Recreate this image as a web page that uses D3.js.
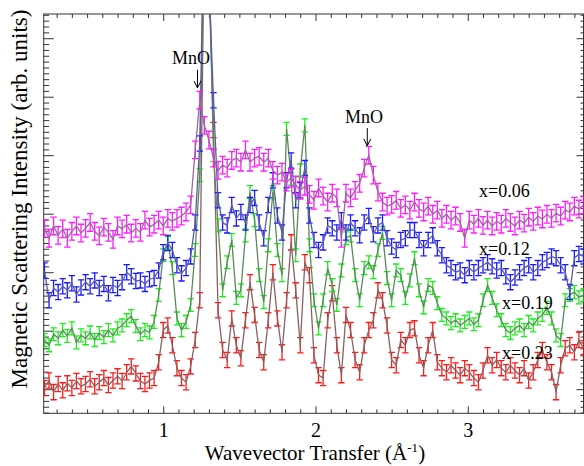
<!DOCTYPE html>
<html>
<head>
<meta charset="utf-8">
<script src="https://cdn.jsdelivr.net/npm/d3@7"></script>
<style>
  html, body { margin: 0; padding: 0; background: #fff; overflow: hidden; }
  svg { display: block; }
  svg text { font-family: "Liberation Serif", "DejaVu Serif", serif; fill: #000; }
</style>
</head>
<body>
<div id="chart"></div>
<script>
// wavevector transfer grid (1/Angstrom)
var q = [
  0.22,0.25,0.28,0.31,0.34,0.37,0.40,0.43,0.46,0.49,
  0.52,0.55,0.58,0.61,0.64,0.67,0.70,0.73,0.76,0.79,
  0.82,0.85,0.88,0.91,0.94,0.97,1.00,1.03,1.06,1.09,
  1.12,1.15,1.18,1.21,1.24,1.27,1.30,1.33,1.36,1.39,
  1.42,1.45,1.48,1.51,1.54,1.57,1.60,1.63,1.66,1.69,
  1.72,1.75,1.78,1.81,1.84,1.87,1.90,1.93,1.96,1.99,
  2.02,2.05,2.08,2.11,2.14,2.17,2.20,2.23,2.26,2.29,
  2.32,2.35,2.38,2.41,2.44,2.47,2.50,2.53,2.56,2.59,
  2.62,2.65,2.68,2.71,2.74,2.77,2.80,2.83,2.86,2.89,
  2.92,2.95,2.98,3.01,3.04,3.07,3.10,3.13,3.16,3.19,
  3.22,3.25,3.28,3.31,3.34,3.37,3.40,3.43,3.46,3.49,
  3.52,3.55,3.58,3.61,3.64,3.67,3.70,3.73,3.76
];

// intensities (arb. units, offset per composition)
var intensityX006 = [
  27.5,25.8,27.9,26.3,27.4,25.8,27.0,27.9,26.7,27.5,
  28.5,27.0,26.2,27.7,26.8,25.6,27.9,27.4,28.2,26.7,
  27.5,26.8,28.9,27.7,28.2,28.9,27.9,29.2,28.7,29.2,
  29.6,30.3,31.5,40.9,49.4,45.1,42.6,39.5,37.4,38.3,
  37.8,39.1,39.5,38.8,40.9,38.8,39.5,39.8,38.8,39.5,
  37.4,36.6,37.1,35.4,36.1,34.9,34.0,34.7,33.3,32.3,
  34.4,33.0,32.0,33.5,32.7,25.8,33.5,32.7,34.0,35.2,
  37.8,40.0,36.6,33.7,32.0,31.3,31.6,32.3,30.9,31.5,
  30.6,32.0,30.9,30.3,31.3,29.9,30.6,29.2,29.9,28.9,
  29.6,28.5,25.8,28.9,28.2,29.2,28.0,28.9,27.9,28.7,
  28.2,29.2,28.5,27.9,28.9,28.4,29.4,28.7,29.6,29.1,
  29.9,29.2,30.1,29.6,30.6,30.3,31.3,30.8,31.5
];
var intensityX012 = [
  20.3,15.2,17.3,16.6,17.6,16.9,18.1,16.2,17.4,18.3,
  17.6,18.6,17.3,18.0,16.4,17.8,17.3,18.3,20.0,19.3,
  18.5,18.6,18.0,18.8,19.0,20.3,23.4,25.0,23.8,21.2,
  19.8,20.7,22.7,28.5,42.0,85.0,70.0,49.4,32.3,28.5,
  28.0,31.5,29.2,30.3,28.5,31.5,32.7,28.5,25.8,31.5,
  35.7,29.7,26.8,35.7,39.1,32.3,34.0,37.8,29.7,25.5,
  23.8,25.1,28.0,27.5,26.8,28.9,26.8,28.5,27.5,26.3,
  28.5,29.6,26.5,28.0,28.5,25.8,24.4,23.8,25.5,25.8,
  27.2,27.2,25.5,24.1,25.5,26.3,24.1,22.9,21.2,20.7,
  20.0,20.3,19.5,20.7,20.0,20.7,21.2,21.7,21.0,20.3,
  20.7,19.3,18.3,19.1,20.0,20.7,21.2,20.0,20.7,21.7,
  22.1,22.7,22.4,21.2,20.0,16.6,22.4,23.1,22.7
];
var intensityX019 = [
  8.4,7.5,9.4,8.7,10.1,9.1,10.4,8.0,9.2,8.7,
  9.7,8.4,9.6,8.9,10.1,9.2,10.4,10.9,11.8,12.5,
  10.8,9.4,10.1,9.7,11.5,16.1,22.9,25.0,20.7,12.1,
  10.1,11.5,14.4,23.8,36.6,82.0,75.0,40.0,28.0,16.9,
  21.7,25.5,15.6,16.9,26.3,33.7,28.9,19.5,14.9,24.6,
  33.7,23.8,19.5,44.5,36.0,22.9,37.4,45.1,24.6,15.2,
  10.4,15.2,20.7,17.8,14.4,20.3,25.8,26.3,19.5,15.2,
  20.7,21.7,20.0,23.8,26.7,19.0,15.2,20.3,19.5,15.6,
  18.6,22.4,16.9,14.0,17.8,17.3,14.7,12.7,12.1,11.3,
  11.8,10.9,11.5,12.1,11.1,11.8,15.2,17.8,15.6,13.5,
  11.8,10.1,9.6,10.4,10.9,10.1,11.5,10.9,12.1,12.7,
  13.9,12.1,9.2,8.4,15.2,16.1,16.6,15.7,16.1
];
var intensityX023 = [
  0.2,1.5,-0.5,0.9,-0.2,1.0,0.2,1.4,0.5,0.9,
  1.7,0.5,1.2,1.9,0.7,1.5,2.2,1.4,2.9,3.9,
  2.7,1.4,0.9,1.5,1.9,4.6,10.1,10.9,7.5,3.6,
  1.9,1.2,3.9,8.4,15.2,80.0,70.0,44.3,13.5,6.7,
  5.0,12.1,7.5,5.3,11.8,18.3,12.7,6.7,4.6,11.8,
  20.0,12.1,6.3,15.2,25.1,16.9,7.5,21.7,19.5,5.8,
  2.4,1.9,11.8,16.4,7.5,2.4,12.7,10.1,5.0,2.9,
  7.5,10.1,11.8,16.9,15.2,10.9,5.0,4.1,8.4,7.5,
  10.1,10.4,5.8,3.6,7.5,10.1,4.6,3.6,2.9,4.1,
  3.2,2.4,3.6,2.9,1.9,1.2,3.2,5.8,4.1,5.0,
  3.6,2.9,4.1,3.2,2.4,3.6,1.5,2.9,5.0,6.7,
  4.6,2.9,-0.5,4.1,7.0,7.5,6.3,8.4,7.0
];

// error bar half-lengths
var errX006 = 1.5, errX012 = 1.3, errX019 = 1.1, errX023 = 1.3;

var seriesNames = ["x=0.23", "x=0.19", "x=0.12", "x=0.06"];
var xMajorTicks = [1, 2, 3];
var mnoLabels = ["MnO", "MnO"];

var width = 584, height = 466,
    margin = {top: 14, right: 0.5, bottom: 52.7, left: 43.7},
    innerWidth = width - margin.left - margin.right,
    innerHeight = height - margin.top - margin.bottom;

var svg = d3.select("#chart").append("svg")
    .attr("width", width)
    .attr("height", height);

var g = svg.append("g")
    .attr("transform", "translate(" + margin.left + "," + margin.top + ")");

var x = d3.scaleLinear().domain([0.215, 3.76]).range([0, innerWidth]);
var y = d3.scaleLinear().domain([-4.12, 64.14]).range([innerHeight, 0]);

var xMinor = d3.range(3, 38).map(function (d) { return d / 10; })
    .filter(function (d) { return xMajorTicks.indexOf(d) < 0; });
var yMajor = d3.range(0, 61, 10);
var yMinor = d3.range(-4, 65).filter(function (d) { return d % 10 !== 0; });

function styleAxis(sel) {
  sel.select(".domain").remove();
  sel.selectAll(".tick line").attr("stroke", "#333").attr("stroke-width", 1);
  // unlabeled axes: drop the empty text nodes
  sel.selectAll(".tick text").filter(function () { return !this.textContent; }).remove();
}

// bottom
g.append("g").attr("transform", "translate(0," + innerHeight + ")")
  .call(d3.axisBottom(x).tickValues(xMinor).tickSize(-4).tickFormat(""))
  .call(styleAxis);
g.append("g").attr("transform", "translate(0," + innerHeight + ")")
  .call(d3.axisBottom(x).tickValues(xMajorTicks).tickSize(-7).tickPadding(10).tickFormat(d3.format("d")))
  .call(styleAxis)
  .selectAll("text").attr("font-size", 20).attr("font-family", "Liberation Serif");
// top
g.append("g")
  .call(d3.axisTop(x).tickValues(xMinor).tickSize(-4).tickFormat(""))
  .call(styleAxis);
g.append("g")
  .call(d3.axisTop(x).tickValues(xMajorTicks).tickSize(-7).tickFormat(""))
  .call(styleAxis);
// left
g.append("g")
  .call(d3.axisLeft(y).tickValues(yMinor).tickSize(-5.5).tickFormat(""))
  .call(styleAxis);
g.append("g")
  .call(d3.axisLeft(y).tickValues(yMajor).tickSize(-10).tickFormat(""))
  .call(styleAxis);
// right
g.append("g").attr("transform", "translate(" + innerWidth + ",0)")
  .call(d3.axisRight(y).tickValues(yMinor).tickSize(-3).tickFormat(""))
  .call(styleAxis);
g.append("g").attr("transform", "translate(" + innerWidth + ",0)")
  .call(d3.axisRight(y).tickValues(yMajor).tickSize(-7).tickFormat(""))
  .call(styleAxis);

g.append("rect")
  .attr("width", innerWidth)
  .attr("height", innerHeight)
  .attr("fill", "none")
  .attr("stroke", "#333")
  .attr("stroke-width", 1);

g.append("clipPath").attr("id", "clip")
  .append("rect").attr("width", innerWidth).attr("height", innerHeight);

var plot = g.append("g").attr("clip-path", "url(#clip)");

var series = [
  {values: intensityX023, err: errX023, color: "#ff1a1a", line: "#8a6060"},
  {values: intensityX019, err: errX019, color: "#1aee1a", line: "#5a8a5a"},
  {values: intensityX012, err: errX012, color: "#1a1aff", line: "#5a5aa8"},
  {values: intensityX006, err: errX006, color: "#ff1aff", line: "#a064a0"}
];

var line = d3.line()
  .x(function (d) { return x(d.q); })
  .y(function (d) { return y(d.v); });

series.forEach(function (s) {
  var pts = q.map(function (d, i) { return {q: d, v: s.values[i], e: s.err}; });
  var gs = plot.append("g");

  var bars = gs.selectAll(".eb").data(pts).enter().append("g").attr("class", "eb")
    .attr("stroke", s.color).attr("stroke-width", 1.3);
  bars.append("line")
    .attr("x1", function (d) { return x(d.q); })
    .attr("x2", function (d) { return x(d.q); })
    .attr("y1", function (d) { return y(d.v - d.e); })
    .attr("y2", function (d) { return y(d.v + d.e); });
  bars.append("line")
    .attr("x1", function (d) { return x(d.q) - 3.2; })
    .attr("x2", function (d) { return x(d.q) + 3.2; })
    .attr("y1", function (d) { return y(d.v + d.e); })
    .attr("y2", function (d) { return y(d.v + d.e); });
  bars.append("line")
    .attr("x1", function (d) { return x(d.q) - 3.2; })
    .attr("x2", function (d) { return x(d.q) + 3.2; })
    .attr("y1", function (d) { return y(d.v - d.e); })
    .attr("y2", function (d) { return y(d.v - d.e); });

  gs.append("path").datum(pts)
    .attr("d", line)
    .attr("fill", "none")
    .attr("stroke", s.line)
    .attr("stroke-width", 1.3);
});

// composition labels (data coordinates)
var labelPos = [[3.225, 5.16], [3.225, 13.7], [3.074, 22.94], [3.074, 32.85]];
g.selectAll(".series-label").data(seriesNames).enter().append("text")
  .attr("class", "series-label")
  .attr("x", function (d, i) { return x(labelPos[i][0]); })
  .attr("y", function (d, i) { return y(labelPos[i][1]); })
  .attr("font-size", 18)
  .text(function (d) { return d; });

// MnO impurity markers
var mno = [
  {tq: 1.058, tv: 55.6, aq: 1.225, a1: 54.6, a2: 51.5},
  {tq: 2.194, tv: 45.5, aq: 2.34, a1: 44.65, a2: 41.6}
];
mno.forEach(function (m, i) {
  g.append("text")
    .attr("x", x(m.tq))
    .attr("y", y(m.tv))
    .attr("font-size", 18)
    .text(mnoLabels[i]);
  var ax = x(m.aq), ay1 = y(m.a1), ay2 = y(m.a2);
  g.append("path")
    .attr("d", "M" + ax + "," + ay1 + "L" + ax + "," + ay2 +
               "M" + (ax - 3.5) + "," + (ay2 - 7) + "L" + ax + "," + ay2 + "L" + (ax + 3.5) + "," + (ay2 - 7))
    .attr("fill", "none")
    .attr("stroke", "#000")
    .attr("stroke-width", 1);
});

// axis titles
var xt = svg.append("text")
  .attr("x", 315)
  .attr("y", 460)
  .attr("text-anchor", "middle")
  .attr("font-size", 21);
xt.append("tspan").text("Wavevector Transfer (\u00c5");
xt.append("tspan").attr("font-size", 13).attr("dy", -8).text("-1");
xt.append("tspan").attr("dy", 8).text(")");

svg.append("text")
  .attr("transform", "translate(27,199) rotate(-90)")
  .attr("text-anchor", "middle")
  .attr("font-size", 23)
  .text("Magnetic Scattering Intensity (arb. units)");
</script>
</body>
</html>
